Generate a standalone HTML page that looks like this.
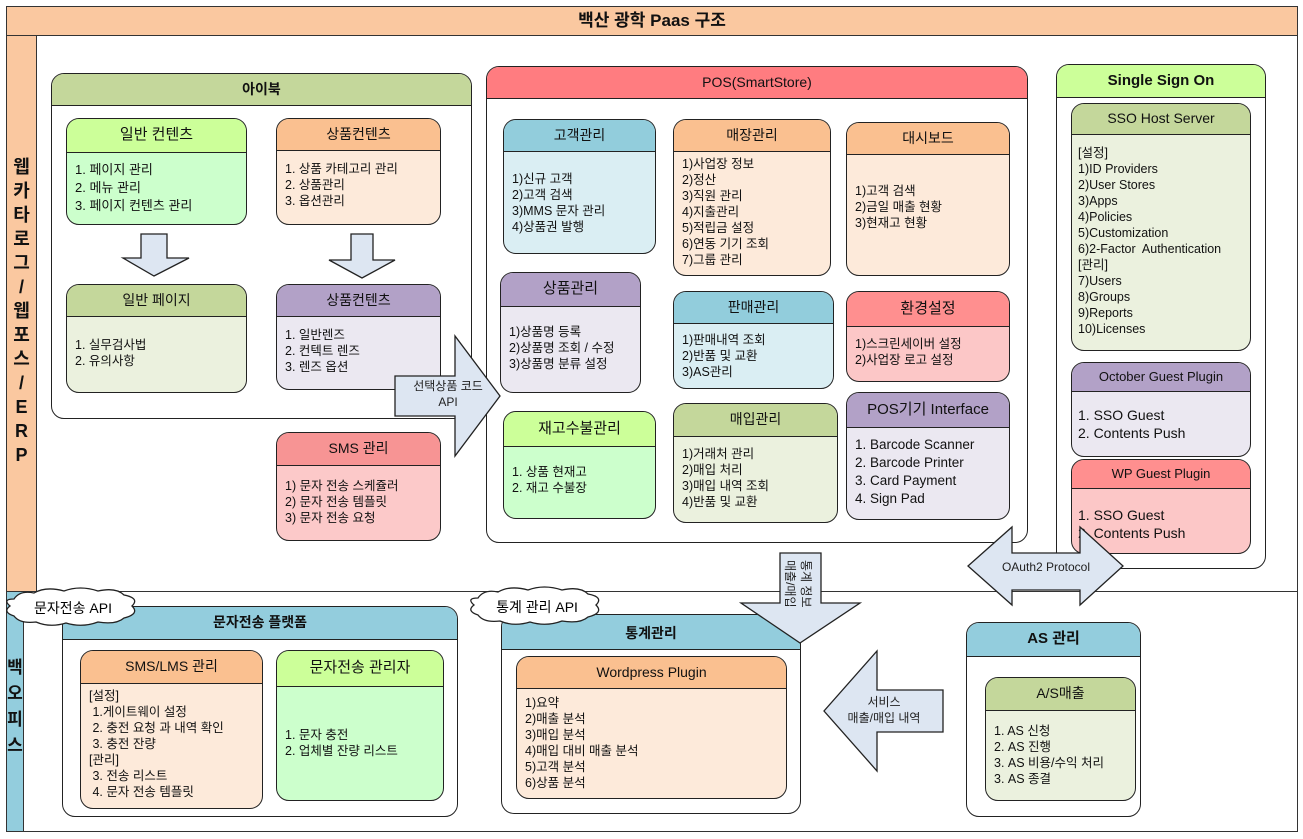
<!DOCTYPE html>
<html><head><meta charset="utf-8">
<style>
body{margin:0;width:1303px;height:839px;background:#fff;position:relative;font-family:"Liberation Sans","Noto Sans CJK KR",sans-serif;color:#111;overflow:hidden}
.a{position:absolute}
.b{position:absolute;border:1.4px solid #222;border-radius:13px;overflow:hidden;box-sizing:border-box}
.h{border-bottom:1.4px solid #222;text-align:center;box-sizing:border-box}
.t{font-size:12.5px;line-height:16px;padding:0 8px;white-space:pre}
.bold{font-weight:bold}
</style></head><body>
<div class="a" style="left:6px;top:6px;width:1292px;height:826px;border:1.4px solid #333;box-sizing:border-box"></div>
<div class="a" style="left:6px;top:6px;width:1292px;height:30px;background:#fac8a0;border:1.4px solid #333;box-sizing:border-box;text-align:center;font-weight:bold;font-size:17px;line-height:27px">백산 광학 Paas 구조</div>
<div class="a" style="left:6px;top:35px;width:31px;height:557px;background:#fac8a0;border:1.4px solid #333;box-sizing:border-box"></div>
<div class="a" style="left:6px;top:591px;width:18px;height:241px;background:#93cddd;border:1.4px solid #333;box-sizing:border-box"></div>
<div class="a" style="left:6px;top:591px;width:1292px;height:0;border-top:1.4px solid #333"></div>
<div class="a bold" style="left:6px;top:155px;width:31px;text-align:center;font-size:18px;line-height:24px">웹<br>카<br>타<br>로<br>그<br>/<br>웹<br>포<br>스<br>/<br>E<br>R<br>P</div>
<div class="a bold" style="left:6px;top:655px;width:18px;text-align:center;font-size:17px;line-height:26px">백<br>오<br>피<br>스</div>

<div class="b" style="left:51px;top:73px;width:421px;height:346px;background:#fff"><div class="h bold" style="height:32px;line-height:30px;background:#c4d79b;font-size:14px">아이북</div></div>
<div class="b" style="left:66px;top:118px;width:181px;height:107px;background:#ccffcc"><div class="h" style="height:34px;line-height:32px;background:#ccff99;font-size:15px">일반 컨텐츠</div><div class="t" style="padding-top:8px;font-size:13px;line-height:18px">1. 페이지 관리
2. 메뉴 관리
3. 페이지 컨텐츠 관리</div></div>
<div class="b" style="left:276px;top:118px;width:165px;height:107px;background:#fdeada"><div class="h" style="height:32px;line-height:30px;background:#fac090;font-size:14px">상품컨텐츠</div><div class="t" style="padding-top:10px">1. 상품 카테고리 관리
2. 상품관리
3. 옵션관리</div></div>
<div class="b" style="left:66px;top:284px;width:181px;height:109px;background:#ebf1de"><div class="h" style="height:32px;line-height:30px;background:#c4d79b;font-size:14px">일반 페이지</div><div class="t" style="padding-top:20px">1. 실무검사법
2. 유의사항</div></div>
<div class="b" style="left:276px;top:284px;width:165px;height:106px;background:#ebe8f1"><div class="h" style="height:32px;line-height:30px;background:#b2a1c7;font-size:14px">상품컨텐츠</div><div class="t" style="padding-top:10px">1. 일반렌즈
2. 컨텍트 렌즈
3. 렌즈 옵션</div></div>
<div class="b" style="left:276px;top:432px;width:165px;height:109px;background:#fcc9c9"><div class="h" style="height:33px;line-height:31px;background:#f79494;font-size:14px">SMS 관리</div><div class="t" style="padding-top:12px">1) 문자 전송 스케쥴러
2) 문자 전송 템플릿
3) 문자 전송 요청</div></div>

<div class="b" style="left:486px;top:66px;width:542px;height:477px;background:#fff"><div class="h" style="height:32px;line-height:30px;background:#ff7c80;font-size:14px">POS(SmartStore)</div></div>
<div class="b" style="left:503px;top:119px;width:153px;height:135px;background:#daeef3"><div class="h" style="height:32px;line-height:30px;background:#92cddc;font-size:14px">고객관리</div><div class="t" style="padding-top:19px">1)신규 고객
2)고객 검색
3)MMS 문자 관리
4)상품권 발행</div></div>
<div class="b" style="left:673px;top:119px;width:158px;height:157px;background:#fdeada"><div class="h" style="height:32px;line-height:30px;background:#fac090;font-size:14px">매장관리</div><div class="t" style="padding-top:4px">1)사업장 정보
2)정산
3)직원 관리
4)지출관리
5)적립금 설정
6)연동 기기 조회
7)그룹 관리</div></div>
<div class="b" style="left:846px;top:122px;width:164px;height:154px;background:#fdeada"><div class="h" style="height:32px;line-height:30px;background:#fac090;font-size:14px">대시보드</div><div class="t" style="padding-top:28px">1)고객 검색
2)금일 매출 현황
3)현재고 현황</div></div>
<div class="b" style="left:500px;top:272px;width:141px;height:121px;background:#ebe8f1"><div class="h" style="height:34px;line-height:32px;background:#b2a1c7;font-size:15px">상품관리</div><div class="t" style="padding-top:17px">1)상품명 등록
2)상품명 조회 / 수정
3)상품명 분류 설정</div></div>
<div class="b" style="left:673px;top:291px;width:161px;height:98px;background:#daeef3"><div class="h" style="height:32px;line-height:30px;background:#92cddc;font-size:14px">판매관리</div><div class="t" style="padding-top:8px">1)판매내역 조회
2)반품 및 교환
3)AS관리</div></div>
<div class="b" style="left:846px;top:291px;width:164px;height:91px;background:#fcc7c7"><div class="h" style="height:35px;line-height:33px;background:#ff8f8f;font-size:15px">환경설정</div><div class="t" style="padding-top:9px">1)스크린세이버 설정
2)사업장 로고 설정</div></div>
<div class="b" style="left:503px;top:411px;width:153px;height:108px;background:#ccffcc"><div class="h" style="height:35px;line-height:33px;background:#ccff99;font-size:15px">재고수불관리</div><div class="t" style="padding-top:17px">1. 상품 현재고
2. 재고 수불장</div></div>
<div class="b" style="left:673px;top:403px;width:165px;height:120px;background:#ebf1de"><div class="h" style="height:33px;line-height:31px;background:#c4d79b;font-size:14px">매입관리</div><div class="t" style="padding-top:9px">1)거래처 관리
2)매입 처리
3)매입 내역 조회
4)반품 및 교환</div></div>
<div class="b" style="left:846px;top:392px;width:164px;height:128px;background:#ebe8f1"><div class="h" style="height:35px;line-height:33px;background:#b2a1c7;font-size:15px">POS기기 Interface</div><div class="t" style="padding-top:8px;font-size:13.5px;line-height:18px">1. Barcode Scanner
2. Barcode Printer
3. Card Payment
4. Sign Pad</div></div>

<div class="b" style="left:1056px;top:64px;width:210px;height:505px;background:#fff"><div class="h bold" style="height:33px;line-height:31px;background:#ccff99;font-size:15px">Single Sign On</div></div>
<div class="b" style="left:1071px;top:103px;width:180px;height:248px;background:#ebf1de"><div class="h" style="height:31px;line-height:29px;background:#c4d79b;font-size:14px">SSO Host Server</div><div class="t" style="padding-top:10px;padding-left:6px">[설정]
1)ID Providers
2)User Stores
3)Apps
4)Policies
5)Customization
6)2-Factor  Authentication
[관리]
7)Users
8)Groups
9)Reports
10)Licenses</div></div>
<div class="b" style="left:1071px;top:362px;width:180px;height:95px;background:#ebe8f1"><div class="h" style="height:29px;line-height:27px;background:#b2a1c7;font-size:13px">October Guest Plugin</div><div class="t" style="padding-top:14px;font-size:14px;line-height:18px;padding-left:6px">1. SSO Guest
2. Contents Push</div></div>
<div class="b" style="left:1071px;top:459px;width:180px;height:95px;background:#fcc7c7"><div class="h" style="height:29px;line-height:27px;background:#ff8f8f;font-size:13px">WP Guest Plugin</div><div class="t" style="padding-top:17px;font-size:14px;line-height:18px;padding-left:6px">1. SSO Guest
2. Contents Push</div></div>

<div class="b" style="left:62px;top:606px;width:396px;height:211px;background:#fff"><div class="h bold" style="height:33px;line-height:31px;background:#93cddd;font-size:14px">문자전송 플랫폼</div></div>
<div class="b" style="left:80px;top:650px;width:183px;height:159px;background:#fdeada"><div class="h" style="height:33px;line-height:31px;background:#fac090;font-size:14px">SMS/LMS 관리</div><div class="t" style="padding-top:4px">[설정]
 1.게이트웨이 설정
 2. 충전 요청 과 내역 확인
 3. 충전 잔량
[관리]
 3. 전송 리스트
 4. 문자 전송 템플릿</div></div>
<div class="b" style="left:276px;top:650px;width:168px;height:151px;background:#ccffcc"><div class="h" style="height:36px;line-height:34px;background:#ccff99;font-size:15px">문자전송 관리자</div><div class="t" style="padding-top:40px">1. 문자 충전
2. 업체별 잔량 리스트</div></div>
<div class="b" style="left:501px;top:614px;width:300px;height:200px;background:#fff"><div class="h bold" style="height:35px;line-height:36px;background:#93cddd;font-size:14px">통계관리</div></div>
<div class="b" style="left:516px;top:656px;width:271px;height:143px;background:#fdeada"><div class="h" style="height:32px;line-height:30px;background:#fac090;font-size:14px">Wordpress Plugin</div><div class="t" style="padding-top:6px">1)요약
2)매출 분석
3)매입 분석
4)매입 대비 매출 분석
5)고객 분석
6)상품 분석</div></div>
<div class="b" style="left:966px;top:622px;width:175px;height:195px;background:#fff"><div class="h bold" style="height:34px;line-height:32px;background:#93cddd;font-size:15px">AS 관리</div></div>
<div class="b" style="left:985px;top:677px;width:151px;height:124px;background:#ebf1de"><div class="h" style="height:33px;line-height:31px;background:#c4d79b;font-size:14px">A/S매출</div><div class="t" style="padding-top:12px">1. AS 신청
2. AS 진행
3. AS 비용/수익 처리
3. AS 종결</div></div>

<svg class="a" style="left:0;top:0" width="1303" height="839" font-family="Liberation Sans, Noto Sans CJK KR, sans-serif">
<g fill="#dde6f2" stroke="#222" stroke-width="1.3">
<polygon points="141,234 167,234 167,258 189,258 154,276 123,258 141,258"/>
<polygon points="351,234 373,234 373,260 395,260 362,278 329,260 351,260"/>
<polygon points="395,376 455,376 455,336 500,396 455,456 455,416 395,416"/>
<polygon points="780,553 821,553 821,603 860,603 800,643 741,603 780,603"/>
<polygon points="968,566 1012,527 1012,553 1080,553 1080,527 1123,566 1080,605 1080,590 1012,590 1012,605"/>
<polygon points="943,690 877,690 877,651 824,711 877,771 877,732 943,732"/>
</g>
<g font-size="12" text-anchor="middle" fill="#222">
<text x="448" y="390">선택상품 코드</text><text x="448" y="406">API</text>
<text x="1046" y="571">OAuth2 Protocol</text>
<text x="884" y="706">서비스</text><text x="884" y="722">매출/매입 내역</text>
<text transform="translate(786,560) rotate(90)" font-size="12" text-anchor="start">매출/매입</text>
<text transform="translate(802,560) rotate(90)" font-size="12" text-anchor="start">통계 정보</text>
</g>
<g fill="#fff" stroke="#222" stroke-width="1.3">
<path d="M14,599 q6,-9 20,-6 q12,-7 30,-2 q16,-6 34,0 q18,-4 26,4 q16,3 8,11 q8,8 -8,12 q-8,7 -26,4 q-16,6 -32,1 q-16,5 -30,-1 q-16,2 -22,-6 q-12,-4 -4,-10 q-8,-7 4,-7z"/>
<path d="M478,598 q6,-9 20,-6 q12,-7 30,-2 q16,-6 34,0 q18,-4 26,4 q16,3 8,11 q8,8 -8,12 q-8,7 -26,4 q-16,6 -32,1 q-16,5 -30,-1 q-16,2 -22,-6 q-12,-4 -4,-10 q-8,-7 4,-7z"/>
</g>
<text x="73" y="613" font-size="14" text-anchor="middle">문자전송 API</text>
<text x="537" y="612" font-size="14" text-anchor="middle">통계 관리 API</text>
</svg>
</body></html>
